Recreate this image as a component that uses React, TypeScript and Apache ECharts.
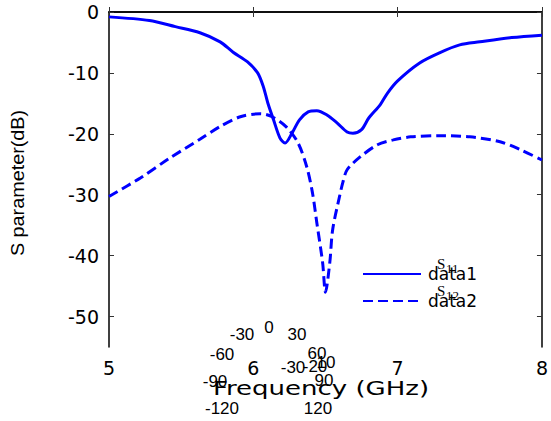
import React, { useEffect, useRef } from "react";
import * as echarts from "echarts";

const FREQ_S11 = [5.0, 5.28, 5.46, 5.63, 5.77, 5.86, 5.96, 6.03, 6.07, 6.1, 6.14, 6.185, 6.22, 6.27, 6.32, 6.38, 6.44, 6.51, 6.58, 6.65, 6.69, 6.75, 6.8, 6.88, 6.93, 7.0, 7.15, 7.29, 7.43, 7.57, 7.79, 8.0];
const S11 = [-0.8, -1.4, -2.4, -3.4, -4.9, -6.6, -8.2, -10.0, -12.3, -14.9, -17.7, -20.7, -21.5, -19.8, -17.7, -16.4, -16.2, -16.9, -18.2, -19.7, -19.9, -19.3, -17.4, -15.2, -13.3, -11.3, -8.4, -6.7, -5.4, -4.9, -4.2, -3.8];

const FREQ_S12 = [5.0, 5.22, 5.42, 5.63, 5.77, 5.91, 6.05, 6.13, 6.23, 6.31, 6.37, 6.41, 6.44, 6.48, 6.5, 6.53, 6.55, 6.6, 6.62, 6.65, 6.74, 6.86, 6.97, 7.09, 7.29, 7.5, 7.71, 7.85, 8.0];
const S12 = [-30.3, -27.2, -24.0, -20.9, -18.8, -17.2, -16.7, -17.2, -18.9, -21.5, -25.4, -29.7, -34.6, -41.1, -46.0, -41.1, -35.7, -30.0, -28.0, -25.9, -23.8, -21.8, -21.0, -20.5, -20.3, -20.5, -21.3, -22.6, -24.3];

const X_TICKS = [5, 6, 7, 8];
const Y_TICKS = [0, -10, -20, -30, -40, -50];
const SERIES_NAMES = ["data1", "data2"];
const LEGEND_SUBS = ["11", "12"];

// stray polar-axis labels present in the reference figure
const STRAY_LABELS: [string, number, number][] = [
  ["-30", 242, 334],
  ["0", 269, 327],
  ["30", 297, 334],
  ["-60", 222, 354],
  ["60", 317, 353],
  ["-30", 293, 367],
  ["-20", 315, 366],
  ["10", 326, 362],
  ["-90", 215, 381],
  ["90", 324, 380],
  ["-120", 222, 408],
  ["120", 318, 408],
];

const BLUE = "#0000ff";

export default function App() {
  const ref = useRef<HTMLDivElement>(null);
  useEffect(() => {
    if (!ref.current) return;
    const chart = echarts.init(ref.current, null, { renderer: "svg" });
    const axisLine = { show: true, lineStyle: { color: "#000", width: 1.5 } };
    const tickStyle = { inside: true, length: 5, lineStyle: { color: "#333", width: 1 } };
    const labelFont = { fontFamily: "DejaVu Sans", fontSize: 19, color: "#000" };

    const txt = (text: string, x: number, y: number, font: string, align = "center", extra: any = {}) => ({
      type: "text",
      x,
      y,
      z: 100,
      ...extra,
      style: {
        text,
        font,
        fill: "#000",
        align,
        verticalAlign: "middle",
        textAlign: align,
        textVerticalAlign: "middle",
      },
    });

    const graphics: any[] = [];
    STRAY_LABELS.forEach(([t, x, y]) => {
      graphics.push(txt(t, x, y, "17px 'Liberation Sans'"));
    });
    graphics.push(txt("Frequency (GHz)", 321, 388, "20px 'DejaVu Sans'", "center", { scaleX: 1.3 }));
    graphics.push(
      txt("S parameter(dB)", 18, 183, "18px 'Liberation Sans'", "center", { rotation: Math.PI / 2, scaleX: 1.1 })
    );
    LEGEND_SUBS.forEach((t, i) => {
      graphics.push(txt("S", 437, 264 + i * 27, "15px 'Liberation Serif'", "left"));
      graphics.push(txt(t, 446, 268 + i * 27, "13px 'Liberation Serif'", "left"));
    });

    chart.setOption({
      animation: false,
      backgroundColor: "#fff",
      grid: { left: 109, right: 9, top: 12, bottom: 74, containLabel: false },
      legend: {
        orient: "vertical",
        left: 362,
        top: 265,
        padding: 0,
        itemWidth: 58,
        itemHeight: 14,
        itemGap: 9,
        data: SERIES_NAMES,
        itemStyle: { opacity: 0 },
        textStyle: {
          fontFamily: "DejaVu Sans",
          fontSize: 17,
          lineHeight: 14,
          color: "#000",
          padding: [4, 0, 0, 2],
        },
      },
      xAxis: [
        {
          type: "value",
          position: "bottom",
          min: 5,
          max: 8,
          interval: 1,
          axisLine,
          axisTick: { ...tickStyle, customValues: X_TICKS },
          axisLabel: { ...labelFont, margin: 11, customValues: X_TICKS },
          splitLine: { show: false },
        },
        {
          type: "value",
          position: "top",
          min: 5,
          max: 8,
          interval: 1,
          axisLine,
          axisTick: { ...tickStyle, customValues: X_TICKS },
          axisLabel: { show: false },
          splitLine: { show: false },
        },
      ],
      yAxis: [
        {
          type: "value",
          position: "left",
          min: -55,
          max: 0,
          axisLine,
          axisTick: { ...tickStyle, customValues: Y_TICKS },
          axisLabel: { ...labelFont, margin: 10, customValues: Y_TICKS },
          splitLine: { show: false },
        },
        {
          type: "value",
          position: "right",
          min: -55,
          max: 0,
          axisLine,
          axisTick: { ...tickStyle, customValues: Y_TICKS },
          axisLabel: { show: false },
          splitLine: { show: false },
        },
      ],
      series: [
        {
          name: SERIES_NAMES[0],
          type: "line",
          data: FREQ_S11.map((f, i) => [f, S11[i]]),
          symbol: "none",
          smooth: 0.3,
          lineStyle: { color: BLUE, width: 3 },
          itemStyle: { color: BLUE },
        },
        {
          name: SERIES_NAMES[1],
          type: "line",
          data: FREQ_S12.map((f, i) => [f, S12[i]]),
          symbol: "none",
          smooth: 0.3,
          lineStyle: { color: BLUE, width: 3, type: [10, 5] },
          itemStyle: { color: BLUE },
        },
      ],
      graphic: graphics,
    });
    return () => chart.dispose();
  }, []);
  return (
    <div
      ref={ref}
      style={{ position: "absolute", left: 0, top: 0, width: 551, height: 421 }}
    />
  );
}
